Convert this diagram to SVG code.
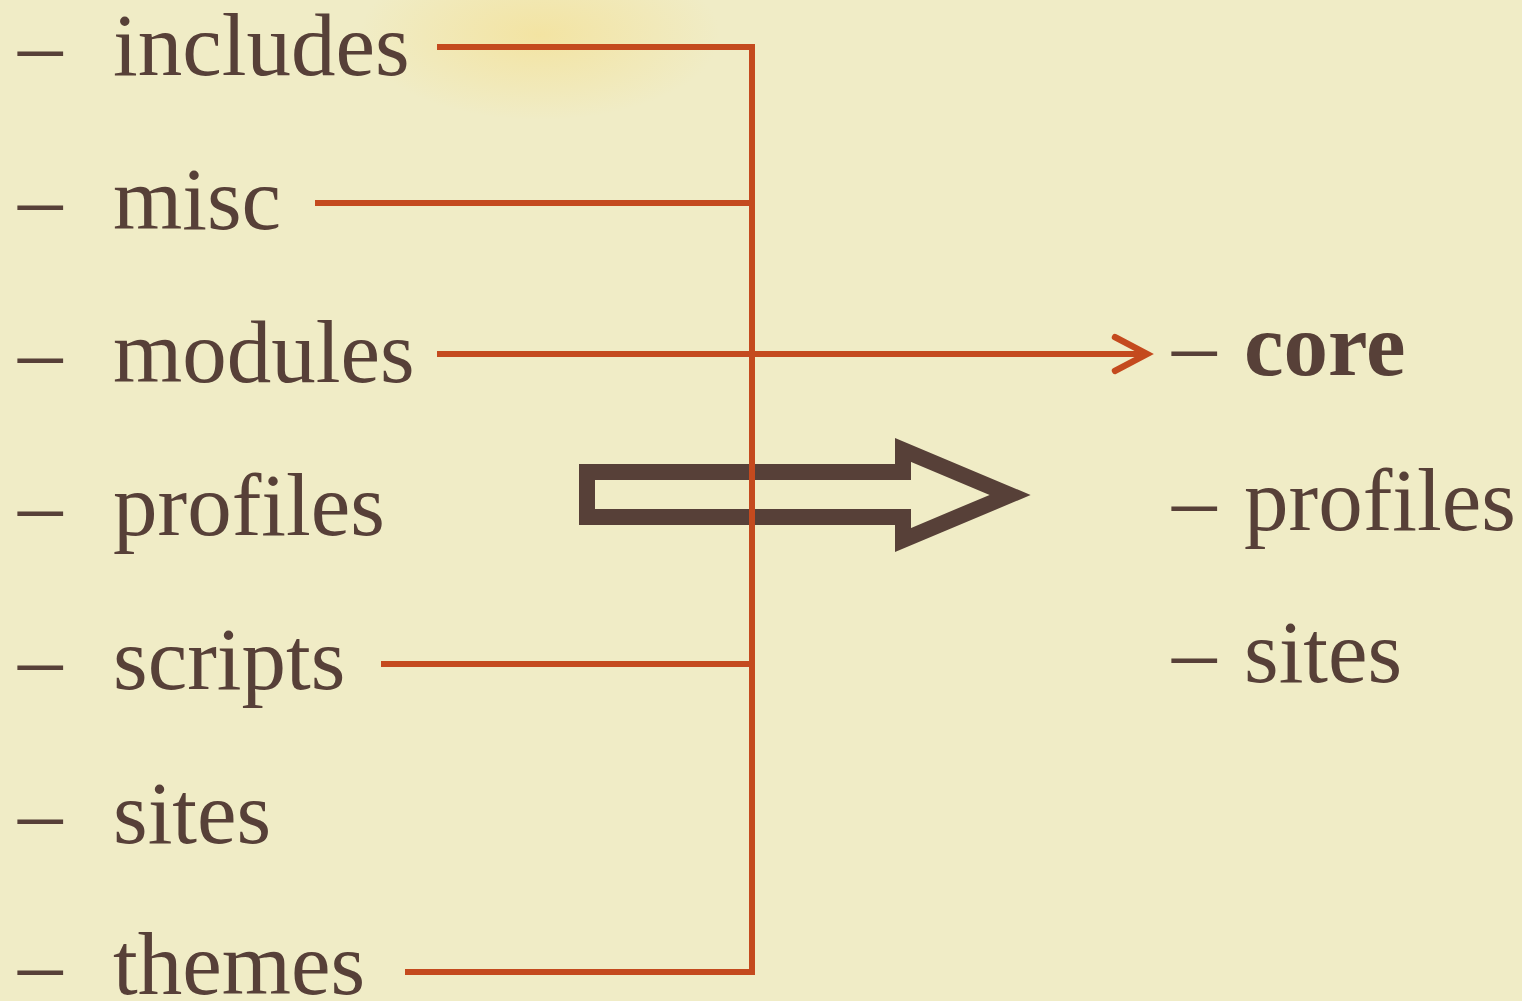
<svg xmlns="http://www.w3.org/2000/svg" width="1522" height="1001" viewBox="0 0 1522 1001">
<style>
.t{font-family:"Liberation Serif","Times New Roman",serif;font-size:89px;fill:#574038}
.b{font-weight:bold}
.c{fill:none;stroke:#C44A1E;stroke-width:6}
</style>
<defs>
<radialGradient id="splash" cx="0.5" cy="0.5" r="0.5">
<stop offset="0" stop-color="#F5DE8A" stop-opacity="0.6"/>
<stop offset="1" stop-color="#F5DE8A" stop-opacity="0"/>
</radialGradient>
<marker id="ah" viewBox="0 0 12 12" refX="10" refY="6" markerWidth="8" markerHeight="8" markerUnits="strokeWidth" orient="auto">
<path d="M2,1.8 L10,6 L2,10.2" fill="none" stroke="#C44A1E" stroke-width="1.6" stroke-linecap="round" stroke-linejoin="miter"/>
</marker>
</defs>
<rect width="1522" height="1001" fill="#F0ECC6"/>
<ellipse cx="540" cy="35" rx="180" ry="85" fill="url(#splash)"/>
<g id="left-list">
<g id="n-includes"><text class="t" x="18" y="75">–</text><text class="t" x="113" y="75">includes</text></g>
<g id="n-misc"><text class="t" x="18" y="229">–</text><text class="t" x="113" y="229">misc</text></g>
<g id="n-modules"><text class="t" x="18" y="382">–</text><text class="t" x="113" y="382">modules</text></g>
<g id="n-profiles"><text class="t" x="18" y="535">–</text><text class="t" x="113" y="535">profiles</text></g>
<g id="n-scripts"><text class="t" x="18" y="689">–</text><text class="t" x="113" y="689">scripts</text></g>
<g id="n-sites"><text class="t" x="18" y="843">–</text><text class="t" x="113" y="843">sites</text></g>
<g id="n-themes"><text class="t" x="18" y="994">–</text><text class="t" x="113" y="994">themes</text></g>
</g>
<g id="right-list">
<g id="n-core"><text class="t" x="1172" y="375">–</text><text class="t b" x="1244" y="375">core</text></g>
<g id="n-profiles2"><text class="t" x="1172" y="530">–</text><text class="t" x="1244" y="530">profiles</text></g>
<g id="n-sites2"><text class="t" x="1172" y="682">–</text><text class="t" x="1244" y="682">sites</text></g>
</g>
<g id="big-arrow">
<polygon points="587,472 903,472 903,450 1010,495 903,540 903,517 587,517" fill="none" stroke="#574038" stroke-width="16" stroke-linejoin="miter" stroke-miterlimit="10"/>
</g>
<g id="connectors">
<polyline class="c" points="437,47 752,47 752,972 405,972"/>
<line class="c" x1="315" y1="203" x2="752" y2="203"/>
<line class="c" x1="381" y1="664" x2="752" y2="664"/>
<line class="c" x1="437" y1="354" x2="1147" y2="354" marker-end="url(#ah)"/>
</g>
</svg>
